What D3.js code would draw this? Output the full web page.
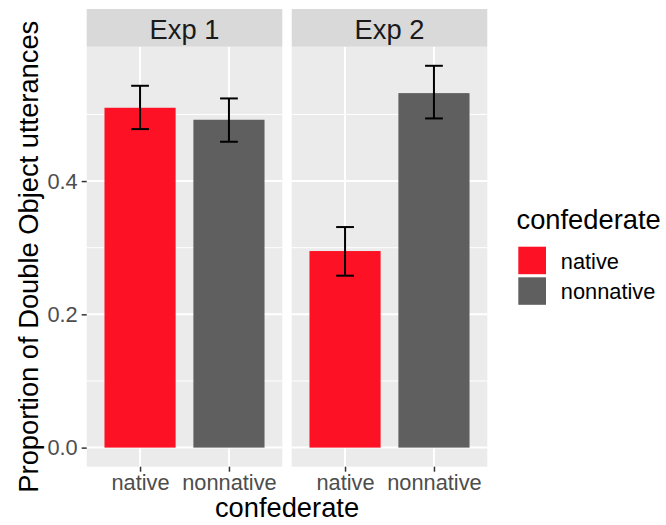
<!DOCTYPE html>
<html lang="en">
<head>
<meta charset="UTF-8" />
<title>Double Object utterances</title>
<script src="https://d3js.org/d3.v7.min.js"></script>
<style>
  body { margin: 0; background: #fff; }
  svg { font-family: "Liberation Sans", Arial, Helvetica, sans-serif; }
</style>
</head>
<body>
<svg id="chart"></svg>
<script>
// Data
const experiments = ["Exp 1", "Exp 2"];
const confederates = ["native", "nonnative"];
const means = [[0.510, 0.492], [0.295, 0.532]];
const lower = [[0.478, 0.459], [0.258, 0.494]];
const upper = [[0.543, 0.524], [0.331, 0.573]];
const yTicks = [0, 0.2, 0.4];
const yMinor = [0.1, 0.3, 0.5];

// Layout
const WIDTH = 666, HEIGHT = 525;
const PANEL = { top: 46.7, bottom: 466.7, width: 195.6 };
const PANEL_LEFT = [86.7, 291.7];
const STRIP_TOP = 9;
const TICK_FONT = 21.8, TITLE_FONT = 27.3;

const svg = d3.select("#chart").attr("width", WIDTH).attr("height", HEIGHT);
svg.append("rect").attr("width", WIDTH).attr("height", HEIGHT).attr("fill", "#fff");

const color = d3.scaleOrdinal().domain(confederates).range(["#FC1224", "#5F5F5F"]);

// y scale with ggplot-style 5% expansion
const yMax = d3.max(upper.flat());
const yMin = 0;
const pad = (yMax - yMin) * 0.05;
const y = d3.scaleLinear().domain([yMin - pad, yMax + pad]).range([PANEL.bottom, PANEL.top]);

experiments.forEach((exp, i) => {
  const x0 = PANEL_LEFT[i];
  const x = d3.scalePoint().domain(confederates).range([x0, x0 + PANEL.width]).padding(0.6);
  const step = x.step();
  const g = svg.append("g");

  // panel background
  g.append("rect")
    .attr("x", x0).attr("y", PANEL.top)
    .attr("width", PANEL.width).attr("height", PANEL.bottom - PANEL.top)
    .attr("fill", "#EBEBEB");

  // grid
  g.selectAll(".minor").data(yMinor).enter().append("line")
    .attr("x1", x0).attr("x2", x0 + PANEL.width)
    .attr("y1", d => y(d)).attr("y2", d => y(d))
    .attr("stroke", "#fff").attr("stroke-width", 1);
  g.selectAll(".major").data(yTicks).enter().append("line")
    .attr("x1", x0).attr("x2", x0 + PANEL.width)
    .attr("y1", d => y(d)).attr("y2", d => y(d))
    .attr("stroke", "#fff").attr("stroke-width", 2);
  g.selectAll(".vgrid").data(confederates).enter().append("line")
    .attr("x1", d => x(d)).attr("x2", d => x(d))
    .attr("y1", PANEL.top).attr("y2", PANEL.bottom)
    .attr("stroke", "#fff").attr("stroke-width", 2);

  // strip
  g.append("rect")
    .attr("x", x0).attr("y", STRIP_TOP)
    .attr("width", PANEL.width).attr("height", PANEL.top - STRIP_TOP)
    .attr("fill", "#D9D9D9");
  g.append("text")
    .attr("x", x0 + PANEL.width / 2).attr("y", 38.9)
    .attr("text-anchor", "middle")
    .attr("font-size", TITLE_FONT).attr("fill", "#1A1A1A")
    .text(exp);

  // bars
  const rows = confederates.map((c, j) => ({ c, m: means[i][j], lo: lower[i][j], hi: upper[i][j] }));
  g.selectAll(".bar").data(rows).enter().append("rect")
    .attr("x", d => x(d.c) - step * 0.4)
    .attr("width", step * 0.8)
    .attr("y", d => y(d.m))
    .attr("height", d => y(0) - y(d.m))
    .attr("fill", d => color(d.c));

  // error bars
  const eb = g.selectAll(".err").data(rows).enter().append("g")
    .attr("stroke", "#000").attr("stroke-width", 2);
  eb.append("line")
    .attr("x1", d => x(d.c)).attr("x2", d => x(d.c))
    .attr("y1", d => y(d.lo)).attr("y2", d => y(d.hi));
  eb.append("line")
    .attr("x1", d => x(d.c) - step * 0.1).attr("x2", d => x(d.c) + step * 0.1)
    .attr("y1", d => y(d.lo)).attr("y2", d => y(d.lo));
  eb.append("line")
    .attr("x1", d => x(d.c) - step * 0.1).attr("x2", d => x(d.c) + step * 0.1)
    .attr("y1", d => y(d.hi)).attr("y2", d => y(d.hi));

  // bottom axis
  const xa = svg.append("g")
    .attr("transform", `translate(0,${PANEL.bottom})`)
    .call(d3.axisBottom(x).tickSize(5).tickPadding(3));
  xa.select(".domain").remove();
  xa.selectAll("line").attr("stroke", "#333").attr("stroke-width", 1.5);
  xa.selectAll("text").attr("font-size", TICK_FONT).attr("fill", "#4D4D4D")
    .attr("font-family", "'Liberation Sans', Arial, sans-serif");
});

// left axis
const ya = svg.append("g")
  .attr("transform", `translate(${PANEL_LEFT[0]},0)`)
  .call(d3.axisLeft(y).tickValues(yTicks).tickFormat(d3.format(".1f")).tickSize(5).tickPadding(4));
ya.select(".domain").remove();
ya.selectAll("line").attr("stroke", "#333").attr("stroke-width", 1.5);
ya.selectAll("text").attr("font-size", TICK_FONT).attr("fill", "#4D4D4D")
  .attr("font-family", "'Liberation Sans', Arial, sans-serif");

// axis titles
svg.append("text")
  .attr("x", (PANEL_LEFT[0] + PANEL_LEFT[1] + PANEL.width) / 2).attr("y", 517)
  .attr("text-anchor", "middle").attr("font-size", TITLE_FONT).attr("fill", "#000")
  .text("confederate");
svg.append("text")
  .attr("transform", `translate(37.5,${(PANEL.top + PANEL.bottom) / 2}) rotate(-90)`)
  .attr("text-anchor", "middle").attr("font-size", TITLE_FONT).attr("fill", "#000")
  .text("Proportion of Double Object utterances");

// legend
const legend = svg.append("g").attr("transform", "translate(516.5,0)");
legend.append("text")
  .attr("x", 0).attr("y", 229.3)
  .attr("font-size", TITLE_FONT).attr("fill", "#000")
  .text("confederate");
const items = legend.selectAll(".item").data(confederates).enter().append("g")
  .attr("transform", (d, k) => `translate(1.8,${246.7 + k * 30.6})`);
items.append("rect")
  .attr("width", 27.7).attr("height", 27.5)
  .attr("fill", d => color(d));
items.append("text")
  .attr("x", 42.5).attr("y", 22)
  .attr("font-size", TICK_FONT).attr("fill", "#000")
  .text(d => d);
</script>
</body>
</html>
